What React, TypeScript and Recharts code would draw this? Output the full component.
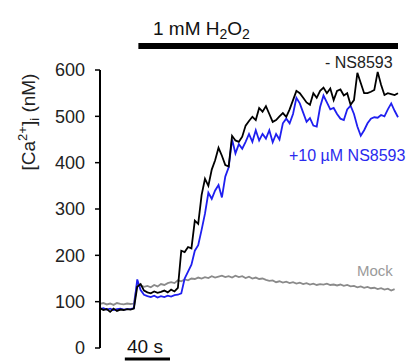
import React from 'react';
import { LineChart, Line, XAxis, YAxis, ReferenceLine } from 'recharts';

// samples every 3 s
const TIME_STEP = 3;

// [Ca2+]i (nM) without inhibitor
const ctrlTrace = [
  86, 82, 84, 78, 85, 80, 83, 82, 84, 83, 85,
  132, 138, 124, 120, 118, 122, 119, 121, 124, 120, 126, 122, 130,
  210, 207, 218, 215, 275, 268, 330, 365, 350, 385, 405, 432, 415, 395, 392,
  458, 448, 445, 456, 480, 490, 499, 492, 518, 510, 522, 505, 488, 492, 500,
  507, 499, 515, 535, 555, 550, 540, 530, 525, 550, 540, 555, 562, 550, 560,
  535, 555, 558, 545, 550, 525, 535, 594, 572, 550, 550, 553, 557, 596, 568,
  546, 550, 548, 546, 550,
];

// [Ca2+]i (nM) with 10 µM NS8593
const nsTrace = [
  84, 86, 83, 85, 82, 84, 85, 83, 84, 84, 86,
  148, 125, 115, 112, 110, 113, 109, 112, 110, 113, 111, 114, 115,
  118, 150, 165, 180, 210, 222, 255, 290, 335, 322, 340, 352, 325, 370, 390,
  450, 420, 440, 430, 445, 462, 445, 470, 448, 462, 452, 470, 444, 462, 450,
  485, 495, 485, 505, 540, 528, 508, 488, 496, 480, 478, 520, 545, 530, 515,
  518, 505, 495, 492, 515, 523, 505, 478, 458, 470, 485, 495, 498, 497, 503,
  500, 515, 528, 512, 498,
];

// mock-treated cells
const mockTrace = [
  95, 97, 94, 96, 93, 97, 95, 94, 96, 95, 96,
  140, 135, 132, 134, 131, 136, 133, 138, 136, 140, 142, 140, 146,
  144, 148, 146, 150, 149, 152, 150, 153, 151, 155, 152, 154, 156, 153, 155,
  152, 156, 153, 155, 151, 154, 150, 152, 149, 150, 147, 145, 146, 142, 144,
  141, 143, 140, 142, 139, 141, 138, 140, 137, 139, 136, 138, 137, 139, 136,
  137, 135, 137, 134, 136, 133, 134, 131, 133, 130, 132, 129, 130, 127, 129,
  126, 128, 124, 127, null,
];

const yTicks = [0, 100, 200, 300, 400, 500, 600];

// H2O2 application (s) and the 40 s scale bar
const h2o2Start = 34;
const h2o2End = 264;
const scaleStart = 22;
const scaleLength = 40;

const data = ctrlTrace.map((v, i) => ({
  t: i * TIME_STEP,
  ctrl: v,
  ns: nsTrace[i],
  mock: mockTrace[i],
}));

const FONT = '"Liberation Sans", Arial, Helvetica, sans-serif';

export default function App() {
  return (
    <div style={{ position: 'absolute', left: 0, top: 0, width: 407, height: 361, background: '#fff', fontFamily: FONT }}>
      <LineChart width={407} height={361} data={data} margin={{ top: 70, right: 9, bottom: 13, left: 0 }}>
        <XAxis dataKey="t" type="number" domain={[0, 264]} hide height={0} />
        <YAxis
          domain={[0, 600]}
          ticks={yTicks}
          interval={0}
          width={100}
          tickSize={5}
          tickMargin={10}
          axisLine={{ stroke: '#000', strokeWidth: 2 }}
          tickLine={{ stroke: '#000', strokeWidth: 1.5 }}
          tick={{ fontSize: 18, fill: '#222', fontFamily: FONT }}
        />
        <ReferenceLine
          segment={[{ x: h2o2Start, y: 652 }, { x: h2o2End, y: 652 }]}
          stroke="#000"
          strokeWidth={6}
          ifOverflow="visible"
        />
        <ReferenceLine
          segment={[{ x: scaleStart, y: -24 }, { x: scaleStart + scaleLength, y: -24 }]}
          stroke="#000"
          strokeWidth={3}
          ifOverflow="visible"
        />
        <Line dataKey="mock" stroke="#8a8a8a" strokeWidth={1.8} dot={false} isAnimationActive={false} connectNulls={false} />
        <Line dataKey="ns" stroke="#1f1ff0" strokeWidth={1.8} dot={false} isAnimationActive={false} />
        <Line dataKey="ctrl" stroke="#000" strokeWidth={1.8} dot={false} isAnimationActive={false} />
      </LineChart>
      <svg width={407} height={361} style={{ position: 'absolute', left: 0, top: 0, pointerEvents: 'none', fontFamily: FONT }}>
        <text x={153} y={35} fontSize={19} fill="#111">
          1 mM H<tspan fontSize={14} dy={4}>2</tspan><tspan dy={-4}>O</tspan><tspan fontSize={14} dy={4}>2</tspan>
        </text>
        <text transform="translate(35,122) rotate(-90)" textAnchor="middle" fontSize={19} fill="#222">
          [Ca<tspan fontSize={13} dy={-8}>2+</tspan><tspan dy={8}>]</tspan><tspan fontSize={13} dy={4}>i</tspan><tspan dy={-4}> (nM)</tspan>
        </text>
        <text x={325} y={68} fontSize={16} fill="#222">- NS8593</text>
        <text x={289} y={161} fontSize={16} fill="#2a2aee">+10 µM NS8593</text>
        <text x={357} y={276} fontSize={15} fill="#9a9a9a">Mock</text>
        <text x={127} y={353} fontSize={19} fill="#111">40 s</text>
      </svg>
    </div>
  );
}
